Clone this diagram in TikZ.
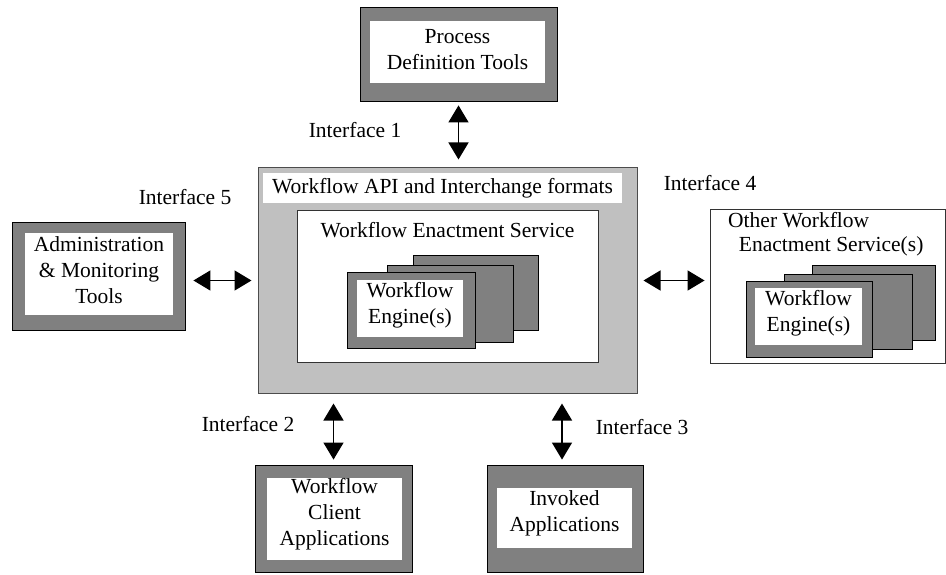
\documentclass[tikz,border=0pt]{standalone}
\usepackage{fontspec}
\setmainfont{Liberation Serif}
\usetikzlibrary{arrows.meta}
\definecolor{darkgr}{HTML}{808080}
\definecolor{lightgr}{HTML}{C0C0C0}
\begin{document}
\begin{tikzpicture}[x=1pt,y=-1pt,
  every node/.style={font=\rmfamily\fontsize{21.5}{26}\selectfont, inner sep=0pt, align=center},
  darkbox/.style={draw=black, fill=darkgr, line width=0.8pt},
  whitein/.style={fill=white, draw=none},
  mainbox/.style={draw=black!70, fill=lightgr, line width=1pt},
  card/.style={draw=black, fill=darkgr, line width=0.8pt},
  thinbox/.style={draw=black!80, fill=white, line width=0.9pt},
  lbl/.style={anchor=center},
  dblarrow/.style={line width=1.4pt, {Triangle[length=17pt,width=20pt]}-{Triangle[length=17pt,width=20pt]}}
]
\useasboundingbox (0,0) rectangle (946,575);

% Process Definition Tools
\node[darkbox, minimum width=197pt, minimum height=94pt] (pdt) at (458.5,54) {};
\node[whitein, minimum width=175pt, minimum height=62pt] (pdtin) at (457.5,52) {};
\node (pdttxt) at (457.5,50) {Process\\Definition Tools};

% Main box
\node[mainbox, minimum width=379pt, minimum height=225pt] (main) at (447.5,280.5) {};
\node[whitein, minimum width=359pt, minimum height=30pt] (api) at (442.5,188) {Workflow API and Interchange formats};
\node[thinbox, minimum width=301pt, minimum height=152pt] (wes) at (447.5,286) {};
\node (westxt) at (447.5,230) {Workflow Enactment Service};
\node[card, minimum width=125pt, minimum height=75pt] (eng3) at (475.5,292.5) {};
\node[card, minimum width=126pt, minimum height=77pt] (eng2) at (450,303.5) {};
\node[card, minimum width=128pt, minimum height=76pt] (eng1) at (411,310) {};
\node[whitein, minimum width=106pt, minimum height=57pt] (eng1in) at (410,308.5) {};
\node (engtxt) at (410,305) {Workflow\\Engine(s)};

% Administration
\node[darkbox, minimum width=173pt, minimum height=108pt] (adm) at (98.5,276) {};
\node[whitein, minimum width=148pt, minimum height=82pt] (admin) at (99,274) {};
\node (admtxt) at (99,270) {Administration\\\& Monitoring\\Tools};

% Other WES
\node[thinbox, minimum width=235pt, minimum height=154pt] (other) at (827.5,286) {};
\node[anchor=north west, align=left, font=\rmfamily\fontsize{21.5}{24}\selectfont] (othertxt) at (728,212) {Other Workflow\\\ \ Enactment Service(s)};
\node[card, minimum width=123pt, minimum height=75pt] (oeng3) at (873.5,302.5) {};
\node[card, minimum width=128pt, minimum height=75pt] (oeng2) at (848,311.5) {};
\node[card, minimum width=126pt, minimum height=76pt] (oeng1) at (809,319) {};
\node[whitein, minimum width=107pt, minimum height=57pt] (oeng1in) at (808.5,316.5) {};
\node (oengtxt) at (808.5,313) {Workflow\\Engine(s)};

% Workflow Client Applications
\node[darkbox, minimum width=157pt, minimum height=107pt] (cli) at (333.5,518.5) {};
\node[whitein, minimum width=135pt, minimum height=82pt] (cliin) at (334.5,519) {};
\node (clitxt) at (334.5,514) {Workflow\\Client\\Applications};

% Invoked Applications
\node[darkbox, minimum width=156pt, minimum height=107pt] (inv) at (565,518.5) {};
\node[whitein, minimum width=135pt, minimum height=60pt] (invin) at (564.5,518) {};
\node (invtxt) at (564.5,513) {Invoked\\Applications};

% Labels
\node[lbl] (if1) at (355,130) {Interface 1};
\node[lbl] (if5) at (185,197) {Interface 5};
\node[lbl] (if4) at (710,183) {Interface 4};
\node[lbl] (if2) at (248,424) {Interface 2};
\node[lbl] (if3) at (642,427) {Interface 3};

% Arrows
\draw[dblarrow, shorten <=4pt, shorten >=8pt] (pdt.south) -- (pdt.south |- main.north);
\draw[dblarrow, shorten <=8pt, shorten >=6pt] (adm.east |- main.west) -- (main.west);
\draw[dblarrow, shorten <=6pt, shorten >=5pt] (main.east) -- (main.east -| other.west);
\draw[dblarrow, shorten <=10pt, shorten >=5pt] (cli.north |- main.south) -- (cli.north);
\draw[dblarrow, shorten <=10pt, shorten >=5pt] ([xshift=-3pt]inv.north |- main.south) -- ([xshift=-3pt]inv.north);
\end{tikzpicture}
\end{document}
